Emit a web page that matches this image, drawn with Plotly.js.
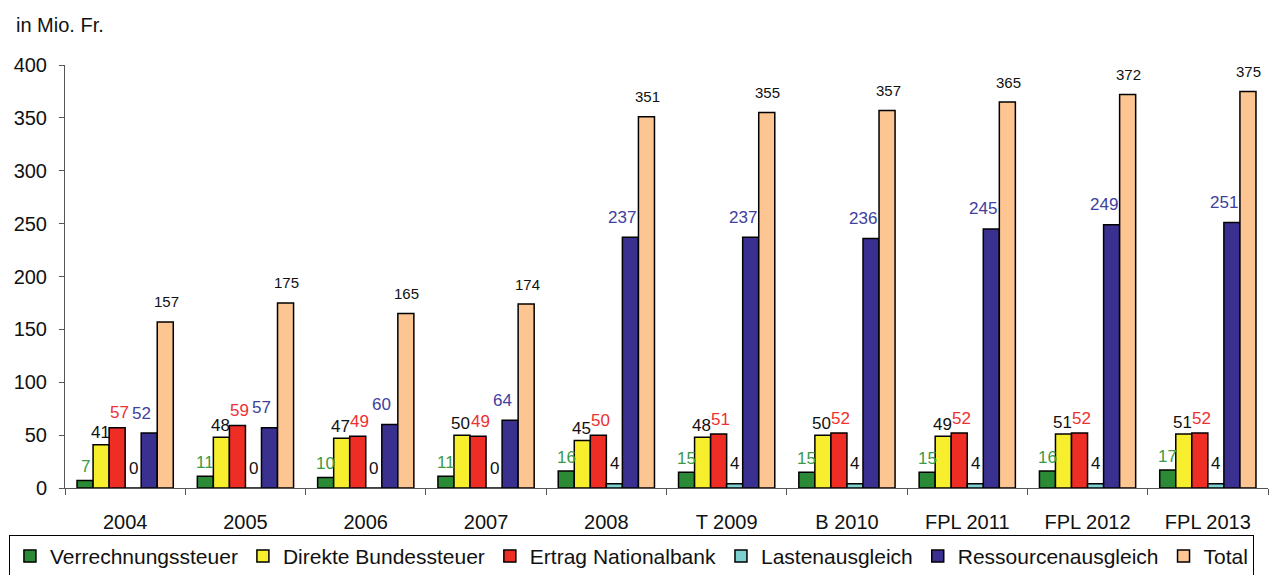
<!DOCTYPE html>
<html>
<head>
<meta charset="utf-8">
<script src="https://cdn.plot.ly/plotly-3.0.1.min.js"></script>
<style>
  html, body { margin: 0; padding: 0; background: #fff; }
  #chart { width: 1281px; height: 575px; }
</style>
</head>
<body>
<div id="chart"></div>
<script>
// Einnahmen aus Bundesquellen, in Mio. Fr.
const years = ["2004", "2005", "2006", "2007", "2008", "T 2009", "B 2010", "FPL 2011", "FPL 2012", "FPL 2013"];

const verrechnungssteuer   = [7, 11, 10, 11, 16, 15, 15, 15, 16, 17];
const direkteBundessteuer  = [41, 48, 47, 50, 45, 48, 50, 49, 51, 51];
const ertragNationalbank   = [57, 59, 49, 49, 50, 51, 52, 52, 52, 52];
const lastenausgleich      = [0, 0, 0, 0, 4, 4, 4, 4, 4, 4];
const ressourcenausgleich  = [52, 57, 60, 64, 237, 237, 236, 245, 249, 251];
const total                = [157, 175, 165, 174, 351, 355, 357, 365, 372, 375];

const yTicks = [0, 50, 100, 150, 200, 250, 300, 350, 400];

const FONT = "Liberation Sans, Arial, sans-serif";

// Plot geometry (pixels)
const W = 1281, H = 575;
const M = { l: 65, r: 13, t: 65, b: 87 };
const BARGAP = 0.2;

// Per-series styling: fill, label colour, label size, label offsets (px)
const seriesDefs = [
  { name: "Verrechnungssteuer",   values: verrechnungssteuer,  fill: "#2a8a35", label: "#3a9a48", size: 17, dx: 0,  dy: 14 },
  { name: "Direkte Bundessteuer", values: direkteBundessteuer, fill: "#f7ef2e", label: "#111111", size: 17, dx: -1, dy: 12 },
  { name: "Ertrag Nationalbank",  values: ertragNationalbank,  fill: "#ee2e24", label: "#ee3030", size: 17, dx: 2,  dy: 15 },
  { name: "Lastenausgleich",      values: lastenausgleich,     fill: "#7dd0d0", label: "#111111", size: 17, dx: 0,  dy: 20 },
  { name: "Ressourcenausgleich",  values: ressourcenausgleich, fill: "#3a3090", label: "#4040a0", size: 17, dx: -8, dy: 20 },
  { name: "Total",                values: total,               fill: "#fcc592", label: "#111111", size: 15, dx: 1,  dy: 20 }
];

const data = seriesDefs.map((s, i) => ({
  type: "bar",
  name: s.name,
  legendgroup: "g" + i,
  x: years,
  y: s.values,
  marker: { color: s.fill, line: { color: "#000", width: 1.5 } },
  hoverinfo: "x+y+name"
}));

// Value labels, drawn above each bar at its data value (x = category index)
const catW = (W - M.l - M.r) / years.length;
const barW = catW * (1 - BARGAP) / seriesDefs.length;
const labels = [];
seriesDefs.forEach((s, i) => {
  const offset = (i - (seriesDefs.length - 1) / 2) * barW;
  s.values.forEach((v, j) => {
    labels.push({
      x: j, y: v, xref: "x", yref: "y",
      text: String(v),
      showarrow: false,
      xanchor: "center", yanchor: "middle",
      xshift: offset + s.dx, yshift: s.dy,
      font: { family: FONT, size: s.size, color: s.label }
    });
  });
});

const layout = {
  width: W,
  height: H,
  margin: { l: M.l, r: M.r, t: M.t, b: M.b, autoexpand: false },
  paper_bgcolor: "#fff",
  plot_bgcolor: "#fff",
  font: { family: FONT, size: 20, color: "#111" },
  barmode: "group",
  bargap: BARGAP,
  bargroupgap: 0,
  showlegend: true,
  legend: {
    orientation: "h",
    x: -0.0466,
    xanchor: "left",
    y: -0.111,
    yanchor: "top",
    bordercolor: "#000",
    borderwidth: 1,
    font: { family: FONT, size: 21, color: "#111" },
    traceorder: "normal",
    tracegroupgap: 5,
    itemwidth: 30
  },
  xaxis: {
    type: "category",
    categoryorder: "array",
    categoryarray: years,
    range: [-0.5, years.length - 0.5],
    autorange: false,
    showline: true,
    linecolor: "#555",
    linewidth: 1,
    ticks: "outside",
    tickson: "boundaries",
    ticklen: 6,
    tickcolor: "#555",
    showgrid: false,
    automargin: false,
    tickfont: { family: FONT, size: 20, color: "#111" },
    ticklabelstandoff: 16
  },
  yaxis: {
    range: [0, 400],
    autorange: false,
    tickvals: yTicks,
    ticktext: yTicks.map(String),
    showline: true,
    linecolor: "#555",
    linewidth: 1,
    ticks: "outside",
    ticklen: 5,
    tickcolor: "#555",
    showgrid: false,
    zeroline: false,
    automargin: false,
    tickfont: { family: FONT, size: 20, color: "#111" },
    ticklabelstandoff: 8
  },
  annotations: labels.concat([{
    text: "in Mio. Fr.",
    xref: "paper", yref: "paper",
    x: -0.0425, y: 1.125,
    xanchor: "left", yanchor: "top",
    showarrow: false,
    font: { family: FONT, size: 20, color: "#111" }
  }])
};

Plotly.newPlot("chart", data, layout, { displayModeBar: false, staticPlot: true });
</script>
</body>
</html>
